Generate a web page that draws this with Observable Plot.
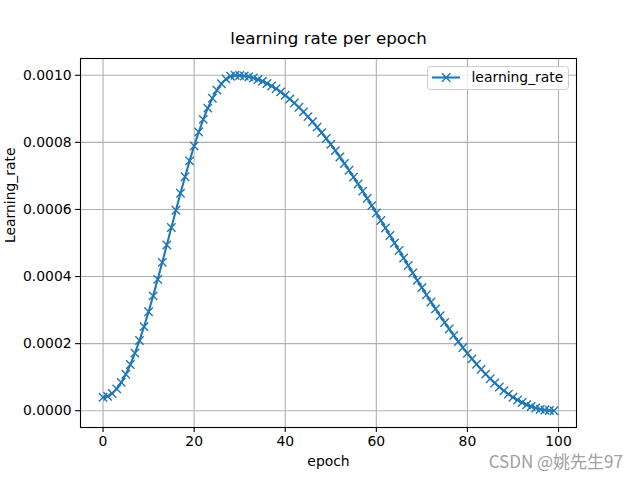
<!DOCTYPE html>
<html>
<head>
<meta charset="utf-8">
<script src="https://cdn.jsdelivr.net/npm/d3@7"></script>
<script src="https://cdn.jsdelivr.net/npm/@observablehq/plot@0.6"></script>
<style>
  html, body { margin: 0; padding: 0; background: white; }
</style>
</head>
<body>
<div id="chart"></div>
<script>
// Data (learning rate per epoch, epochs 0..99)
const epochs = d3.range(0, 100);
const learningRate = [
  0.0000400, 0.0000428, 0.0000512, 0.0000651, 0.0000844, 0.0001087, 0.0001379, 0.0001716, 0.0002093, 0.0002508,
  0.0002952, 0.0003423, 0.0003916, 0.0004423, 0.0004940, 0.0005460, 0.0005977, 0.0006484, 0.0006977, 0.0007448,
  0.0007892, 0.0008307, 0.0008684, 0.0009021, 0.0009313, 0.0009556, 0.0009749, 0.0009888, 0.0009972, 0.0010000,
  0.0009995, 0.0009980, 0.0009955, 0.0009920, 0.0009875, 0.0009820, 0.0009755, 0.0009681, 0.0009598, 0.0009505,
  0.0009403, 0.0009292, 0.0009172, 0.0009045, 0.0008909, 0.0008766, 0.0008614, 0.0008455, 0.0008291, 0.0008117,
  0.0007939, 0.0007755, 0.0007564, 0.0007369, 0.0007169, 0.0006965, 0.0006757, 0.0006545, 0.0006330, 0.0006113,
  0.0005893, 0.0005671, 0.0005448, 0.0005224, 0.0005000, 0.0004776, 0.0004552, 0.0004329, 0.0004107, 0.0003887,
  0.0003670, 0.0003455, 0.0003243, 0.0003035, 0.0002831, 0.0002631, 0.0002436, 0.0002245, 0.0002061, 0.0001883,
  0.0001709, 0.0001545, 0.0001386, 0.0001234, 0.0001091, 0.0000955, 0.0000828, 0.0000708, 0.0000597, 0.0000495,
  0.0000402, 0.0000319, 0.0000245, 0.0000180, 0.0000125, 0.0000080, 0.0000045, 0.0000020, 0.0000005, 0.0000000
];
const xTicks = [0, 20, 40, 60, 80, 100];
const yTicks = [0, 0.0002, 0.0004, 0.0006, 0.0008, 0.0010];
const titleText = "learning rate per epoch";
const xLabel = "epoch";
const yLabel = "Learning_rate";
const seriesName = "learning_rate";
const watermark = "CSDN @姚先生97";

const data = epochs.map((e, i) => ({epoch: e, lr: learningRate[i]}));

const blue = "#1f77b4";
const font = "DejaVu Sans, sans-serif";

const chart = Plot.plot({
  width: 640,
  height: 480,
  marginLeft: 80,
  marginRight: 64,
  marginTop: 58,
  marginBottom: 53,
  style: {fontFamily: font, fontSize: "13.9px", background: "white", color: "black"},
  x: {domain: [-4.95, 103.95], label: null},
  y: {domain: [-0.00005, 0.00105], label: null},
  marks: [
    Plot.gridX(xTicks, {stroke: "#b0b0b0", strokeOpacity: 1, strokeWidth: 1.1}),
    Plot.gridY(yTicks, {stroke: "#b0b0b0", strokeOpacity: 1, strokeWidth: 1.1}),
    Plot.line(data, {x: "epoch", y: "lr", stroke: blue, strokeWidth: 2.08}),
    Plot.dot(data, {x: "epoch", y: "lr", symbol: "times", r: 3.9, stroke: blue, strokeWidth: 1.4}),
    Plot.frame({stroke: "black", strokeWidth: 1.1}),
    Plot.axisX({ticks: xTicks, tickSize: 4.9, tickPadding: 4, strokeWidth: 1.1, fontSize: 13.9, tickFormat: d3.format("d"), label: null}),
    Plot.axisY({ticks: yTicks, tickSize: 4.9, tickPadding: 4, strokeWidth: 1.1, fontSize: 13.9, tickFormat: d3.format(".4f"), label: null}),
    Plot.text([titleText], {frameAnchor: "top", dy: -15, fontSize: 16.7, lineAnchor: "bottom", text: d => d, fill: "black"}),
    Plot.text([xLabel], {frameAnchor: "bottom", dy: 29, fontSize: 13.9, lineAnchor: "top", text: d => d, fill: "black"}),
    Plot.text([yLabel], {frameAnchor: "left", dx: -70, rotate: -90, fontSize: 13.9, text: d => d, fill: "black"})
  ]
});

const svg = d3.select(chart);
// Legend (upper right)
const lg = svg.append("g").attr("text-anchor", "start");
lg.append("rect").attr("x", 427.5).attr("y", 66.5).attr("width", 141).attr("height", 23)
  .attr("rx", 3).attr("fill", "white").attr("fill-opacity", 0.8).attr("stroke", "#cccccc").attr("stroke-width", 1);
lg.append("line").attr("x1", 432).attr("x2", 460).attr("y1", 77.5).attr("y2", 77.5)
  .attr("stroke", blue).attr("stroke-width", 2.08);
lg.append("path").attr("d", "M442,73.3L450.4,81.7M442,81.7L450.4,73.3")
  .attr("stroke", blue).attr("stroke-width", 1.4).attr("fill", "none");
lg.append("text").attr("x", 471.5).attr("y", 77.5).attr("dy", "0.35em").attr("text-anchor", "start")
  .attr("font-family", font).attr("font-size", 13.9).attr("fill", "black").text(seriesName);

// Watermark
svg.append("text").attr("x", 623).attr("y", 468).attr("text-anchor", "end")
  .attr("font-family", "Noto Sans CJK SC, DejaVu Sans, sans-serif").attr("font-size", 17)
  .attr("fill", "#a0a0a0").text(watermark);

document.getElementById("chart").appendChild(chart);
</script>
</body>
</html>
